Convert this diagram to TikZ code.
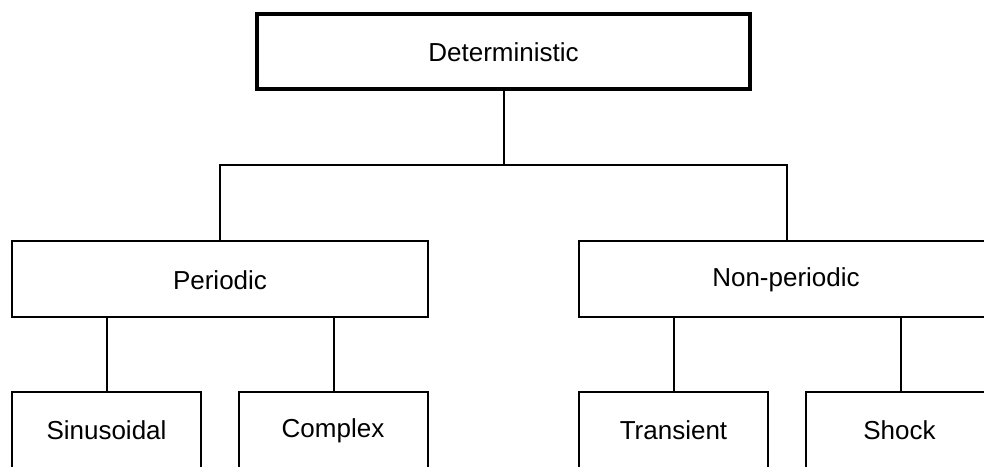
\documentclass[tikz,border=0pt]{standalone}
\usepackage{fontspec}
\setmainfont{Liberation Sans}
\begin{document}
\begin{tikzpicture}[x=1pt,y=-1pt,
  box/.style={draw=black, line width=1.9pt, rectangle, inner sep=0pt,
    minimum height=75pt, text height=19pt, text depth=0pt,
    font=\fontsize{26}{30}\selectfont},
  lowbox/.style={box, minimum width=189pt, minimum height=84pt},
  topbox/.style={box, line width=3.2pt},
  lbl/.style={font=\fontsize{26}{30}\selectfont, text height=19pt, text depth=0pt, inner sep=0pt},
  conn/.style={draw=black, line width=2pt}]
\useasboundingbox (0,0) rectangle (984,466);
\clip (0,0) rectangle (984,466);
\fill[white] (0,0) rectangle (984,466);
\node[topbox, minimum width=493pt] (det) at (503.5,51.5) {Deterministic};
\node[box, minimum width=416pt, minimum height=76pt] (per) at (220,279) {};
\node[lbl] (perl) at (220,280) {Periodic};
\node[box, minimum width=416pt, minimum height=76pt] (non) at (787,279) {};
\node[lbl] (nonl) at (786,276.5) {Non-periodic};
\node[lowbox] (sin) at (106.5,434) {};
\node[lbl] (sinl) at (106.5,430) {Sinusoidal};
\node[lowbox] (com) at (333.5,434) {};
\node[lbl] (coml) at (333,427.5) {Complex};
\node[lowbox] (tra) at (673.5,434) {};
\node[lbl] (tral) at (673.5,430) {Transient};
\node[lowbox] (sho) at (900.5,434) {};
\node[lbl] (shol) at (899.5,430) {Shock};
\coordinate (bar) at (503.5,165);
\draw[conn] (det.south) -- (bar);
\draw[conn] (per.north) |- (bar) -| (non.north);
\draw[conn] (sin.north) -- (sin.north |- per.south);
\draw[conn] (com.north) -- (com.north |- per.south);
\draw[conn] (tra.north) -- (tra.north |- non.south);
\draw[conn] (sho.north) -- (sho.north |- non.south);
\end{tikzpicture}
\end{document}
